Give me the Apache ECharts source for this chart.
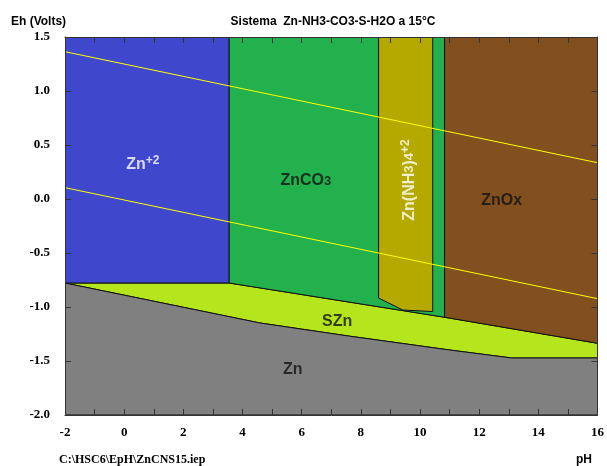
<!DOCTYPE html>
<html>
<head>
<meta charset="utf-8">
<script src="https://cdn.jsdelivr.net/npm/echarts@6/dist/echarts.min.js"></script>
<style>html,body{margin:0;padding:0;background:#fff}#c{width:607px;height:466px}</style>
</head>
<body>
<div id="c"></div>
<script>
// Axis ticks
const xTicks = [-2, 0, 2, 4, 6, 8, 10, 12, 14, 16];
const yTicks = [-2.0, -1.5, -1.0, -0.5, 0.0, 0.5, 1.0, 1.5];

// Stability regions: vertices as [pH, Eh]
const regionSZn   = [[-2,-0.778],[3.55,-0.778],[10.83,-1.095],[16,-1.336],[16,-1.472],[13.10,-1.472],[11.0,-1.398],[7.62,-1.27],[4.59,-1.148],[-2,-0.778]];
const regionZn    = [[-2,-0.778],[4.59,-1.148],[7.62,-1.27],[11.0,-1.398],[13.10,-1.472],[16,-1.472],[16,-2],[-2,-2]];
const regionZn2   = [[-2,1.5],[3.55,1.5],[3.55,-0.778],[-2,-0.778]];
const regionZnCO3 = [[3.55,1.5],[10.83,1.5],[10.83,-1.095],[3.55,-0.778]];
const regionZnNH3 = [[8.6,1.5],[10.43,1.5],[10.43,-1.042],[9.42,-1.028],[8.6,-0.917]];
const regionZnOx  = [[10.83,1.5],[16,1.5],[16,-1.336],[10.83,-1.095]];

// Water stability lines
const o2Line = [[-2,1.364],[16,0.336]];
const h2Line = [[-2,0.105],[16,-0.923]];

// Region labels
const labelPos  = [[0.63,0.32],[6.14,0.167],[12.76,-0.014],[7.20,-1.139],[5.70,-1.583],[9.65,0.176]];
const labelText = ['{w|Zn}{ws|+2}','{k|ZnCO}{ks|3}','{k|ZnOx}','{k|SZn}','{k|Zn}','{w|Zn(NH}{wm|3}{w|)}{wm|4}{ws|+2}'];
const labelRot  = [0,0,0,0,0,90];

const regions = [regionSZn, regionZn, regionZn2, regionZnCO3, regionZnNH3, regionZnOx];
const regionColors = ['#B5E61D','#808080','#3F48CC','#22B14C','#B5A900','#824F1E'];

const chart = echarts.init(document.getElementById('c'), null, {renderer:'canvas'});
const axisCol = '#333';
const tickStyle = {lineStyle:{color:axisCol,width:1}};
function xAx(pos, showLabel){
  return {type:'value', position:pos, min:xTicks[0], max:xTicks[xTicks.length-1], interval:xTicks[1]-xTicks[0], z:10,
    axisLine:{show:true,onZero:false,lineStyle:{color:axisCol,width:1}},
    axisTick:{show:true,inside:true,length:6,...tickStyle},
    minorTick:{show:true,splitNumber:2,length:6,...tickStyle},
    splitLine:{show:false}, minorSplitLine:{show:false},
    axisLabel:{show:showLabel,margin:11,color:'#000',fontFamily:'Liberation Serif',fontWeight:'bold',fontSize:13}};
}
function yAx(pos, showLabel){
  return {type:'value', position:pos, min:yTicks[0], max:yTicks[yTicks.length-1], interval:yTicks[1]-yTicks[0], z:10,
    axisLine:{show:true,onZero:false,lineStyle:{color:axisCol,width:1}},
    axisTick:{show:true,inside:true,length:6,...tickStyle},
    splitLine:{show:false},
    axisLabel:{show:showLabel,margin:15,color:'#000',fontFamily:'Liberation Serif',fontWeight:'bold',fontSize:13,
      formatter:v=>v.toFixed(1)}};
}
const sans = 'Liberation Sans';
chart.setOption({
  animation:false,
  backgroundColor:'#fff',
  grid:{left:65,right:9,top:37,bottom:51,containLabel:false},
  xAxis:[xAx('bottom',true), xAx('top',false)],
  yAxis:[yAx('left',true), yAx('right',false)],
  graphic:[
    {type:'text',left:11,top:16,style:{text:'Eh (Volts)',font:'bold 12px "Liberation Sans"',fill:'#000'}},
    {type:'text',x:333,y:22,style:{text:'Sistema  Zn-NH3-CO3-S-H2O a 15°C',font:'bold 12px "Liberation Sans"',fill:'#000',align:'center',verticalAlign:'middle'}},
    {type:'text',x:59,y:460,style:{text:'C:\\HSC6\\EpH\\ZnCNS15.iep',font:'bold 12px "Liberation Serif"',fill:'#000',verticalAlign:'middle'}},
    {type:'text',x:576,y:460,style:{text:'pH',font:'bold 12px "Liberation Sans"',fill:'#000',verticalAlign:'middle'}}
  ],
  series:[
    {type:'custom', clip:true, z:2,
      data: regions.map((r,i)=>[r[0][0], r[0][1], i]),
      renderItem:(params, api)=>{
        const idx = params.dataIndex;
        const pts = regions[idx].map(p=>api.coord(p));
        return {type:'polygon', shape:{points:pts}, style:{fill:regionColors[idx], stroke:'#111', lineWidth:1}};
      }
    },
    {type:'line', data:o2Line, symbol:'none', z:3, lineStyle:{color:'#FFFF00',width:1}},
    {type:'line', data:h2Line, symbol:'none', z:3, lineStyle:{color:'#FFFF00',width:1}},
    {type:'scatter', z:4, symbolSize:0, silent:true,
      data: labelPos.map((p,i)=>({value:p, label:{formatter:labelText[i], rotate:labelRot[i]}})),
      label:{show:true, position:'inside',
        rich:{
          w:{color:'#fff',fontFamily:sans,fontWeight:'bold',fontSize:16,lineHeight:20},
          wm:{color:'#fff',fontFamily:sans,fontWeight:'bold',fontSize:13,lineHeight:20},
          ws:{color:'#fff',fontFamily:sans,fontWeight:'bold',fontSize:12,lineHeight:12,verticalAlign:'top'},
          k:{color:'#111',fontFamily:sans,fontWeight:'bold',fontSize:16,lineHeight:20},
          ks:{color:'#111',fontFamily:sans,fontWeight:'bold',fontSize:13,lineHeight:20}
        }
      }
    }
  ]
});
</script>
</body>
</html>
